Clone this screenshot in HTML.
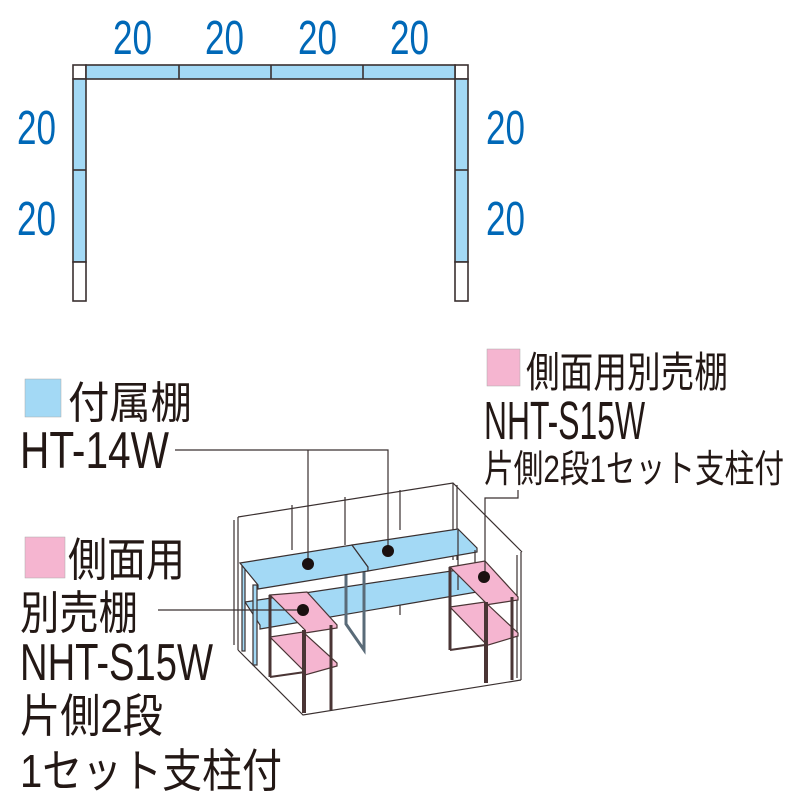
<!DOCTYPE html>
<html><head><meta charset="utf-8"><style>html,body{margin:0;padding:0;background:#fff}svg{display:block}</style></head>
<body>
<svg width="800" height="800" viewBox="0 0 800 800" xmlns="http://www.w3.org/2000/svg" font-family="'Liberation Sans','Noto Sans CJK JP',sans-serif">
<g fill="#0068b7" font-size="48">
<text x="113" y="54" textLength="39" lengthAdjust="spacingAndGlyphs">20</text>
<text x="205" y="54" textLength="39" lengthAdjust="spacingAndGlyphs">20</text>
<text x="298" y="54" textLength="39" lengthAdjust="spacingAndGlyphs">20</text>
<text x="390" y="54" textLength="39" lengthAdjust="spacingAndGlyphs">20</text>
<text x="17" y="144" textLength="39" lengthAdjust="spacingAndGlyphs">20</text>
<text x="17" y="235" textLength="39" lengthAdjust="spacingAndGlyphs">20</text>
<text x="486" y="144" textLength="39" lengthAdjust="spacingAndGlyphs">20</text>
<text x="486" y="235" textLength="39" lengthAdjust="spacingAndGlyphs">20</text>
</g>
<g stroke="#3a3030" stroke-width="1.6">
<rect x="73" y="65" width="13" height="14" fill="#fff"/>
<rect x="455" y="65" width="13" height="14" fill="#fff"/>
<rect x="86" y="65" width="369" height="14" fill="#a3d9f5"/>
<line x1="179" y1="65" x2="179" y2="79"/><line x1="271" y1="65" x2="271" y2="79"/><line x1="363" y1="65" x2="363" y2="79"/>
<rect x="73" y="79" width="13" height="183" fill="#a3d9f5"/>
<line x1="73" y1="170" x2="86" y2="170"/>
<rect x="73" y="262" width="13" height="39" fill="#fff"/>
<rect x="455" y="79" width="13" height="183" fill="#a3d9f5"/>
<line x1="455" y1="170" x2="468" y2="170"/>
<rect x="455" y="262" width="13" height="39" fill="#fff"/>
</g>

<g stroke="#3a3030" stroke-width="1.2" fill="none">
<polyline points="238,517 453,483 522,552"/>
<line x1="238" y1="517" x2="238" y2="650"/>
<line x1="234" y1="520" x2="234" y2="645"/>
<polyline points="238,650 303,715 521,680"/>
<line x1="521" y1="552" x2="521" y2="680"/>
<line x1="517" y1="555" x2="517" y2="678"/>
<line x1="453" y1="483" x2="453" y2="560"/>
<line x1="457" y1="485" x2="457" y2="560"/>
<line x1="292" y1="505" x2="292" y2="550"/>
<line x1="345" y1="497" x2="345" y2="545"/>
<line x1="400" y1="490" x2="400" y2="530"/>
<line x1="400" y1="595" x2="400" y2="615"/>
</g>
<g stroke="#3a3030" stroke-width="1.2">
<polygon points="245,602 458,570 477,588 477,592 260,629 260,625" fill="#a3d9f5"/>
<rect x="253" y="585" width="4" height="80" fill="#a3d9f5"/>
<rect x="242" y="566" width="3" height="85" fill="#a3d9f5"/>
<polyline points="346,570 346,624 364,650 364,567" fill="none" stroke-width="3" stroke="#5a6b78"/>
<polygon points="240,563 352,545 368,567 368,571 258,589 258,585" fill="#a3d9f5"/>
<polygon points="352,545 458,529 477,548 477,552 368,571 368,567" fill="#a3d9f5"/>
<line x1="458" y1="530" x2="458" y2="590"/>
<line x1="475" y1="550" x2="475" y2="590"/>
</g>
<g stroke="#4a3535" stroke-width="1.2">
<polygon points="270,637 303,632 337,663 337,666 305,675 305,672" fill="#f5b5d0"/>
<polygon points="270,595 307,592 337,625 337,628 305,633 305,630" fill="#f5b5d0"/>
<line x1="270" y1="595" x2="270" y2="677" stroke-width="3"/>
<line x1="270" y1="677" x2="305" y2="672" stroke-width="2"/>
<line x1="304" y1="630" x2="304" y2="713" stroke-width="4"/>
<line x1="331" y1="625" x2="331" y2="710" stroke-width="3"/>
</g>
<g stroke="#4a3535" stroke-width="1.2">
<polygon points="450,607 485,602 518,633 518,636 485,646 485,643" fill="#f5b5d0"/>
<polygon points="450,567 485,561 518,597 518,600 485,605 485,602" fill="#f5b5d0"/>
<line x1="450" y1="567" x2="450" y2="650" stroke-width="3"/>
<line x1="450" y1="650" x2="485" y2="645" stroke-width="2"/>
<line x1="486" y1="602" x2="486" y2="683" stroke-width="4"/>
<line x1="512" y1="597" x2="512" y2="680" stroke-width="3"/>
</g>
<g stroke="#3a3030" stroke-width="1.2" fill="none">
<polyline points="175,450 388,450 388,551"/>
<line x1="308" y1="450" x2="308" y2="564"/>
<line x1="158" y1="610" x2="303" y2="610"/>
<polyline points="485,577 485,498 518,498 518,490"/>
</g>
<g fill="#1a1010">
<circle cx="308" cy="564" r="6"/><circle cx="388" cy="551" r="6"/>
<circle cx="303" cy="610" r="6"/><circle cx="484" cy="577" r="6"/>
</g>

<rect x="25" y="379" width="36" height="38" fill="#a3d9f5" stroke="#aaa" stroke-width="0.5"/>
<rect x="487" y="349" width="33" height="37" fill="#f5b5d0" stroke="#aaa" stroke-width="0.5"/>
<rect x="25" y="537" width="40" height="41" fill="#f5b5d0" stroke="#aaa" stroke-width="0.5"/>
<g fill="#231815">
<text x="68" y="418" font-size="44" textLength="124" lengthAdjust="spacingAndGlyphs">付属棚</text>
<text x="20" y="468" font-size="52" textLength="149" lengthAdjust="spacingAndGlyphs">HT-14W</text>
<text x="526" y="387" font-size="42" textLength="202" lengthAdjust="spacingAndGlyphs">側面用別売棚</text>
<text x="484" y="439" font-size="54" textLength="161" lengthAdjust="spacingAndGlyphs">NHT-S15W</text>
<text x="484" y="482" font-size="38" textLength="300" lengthAdjust="spacingAndGlyphs">片側2段1セット支柱付</text>
<text x="68" y="576" font-size="46" textLength="117" lengthAdjust="spacingAndGlyphs">側面用</text>
<text x="20" y="629" font-size="46" textLength="118" lengthAdjust="spacingAndGlyphs">別売棚</text>
<text x="20" y="680" font-size="52" textLength="193" lengthAdjust="spacingAndGlyphs">NHT-S15W</text>
<text x="20" y="732" font-size="46" textLength="143" lengthAdjust="spacingAndGlyphs">片側2段</text>
<text x="20" y="787" font-size="46" textLength="262" lengthAdjust="spacingAndGlyphs">1セット支柱付</text>
</g>
</svg>
</body></html>
